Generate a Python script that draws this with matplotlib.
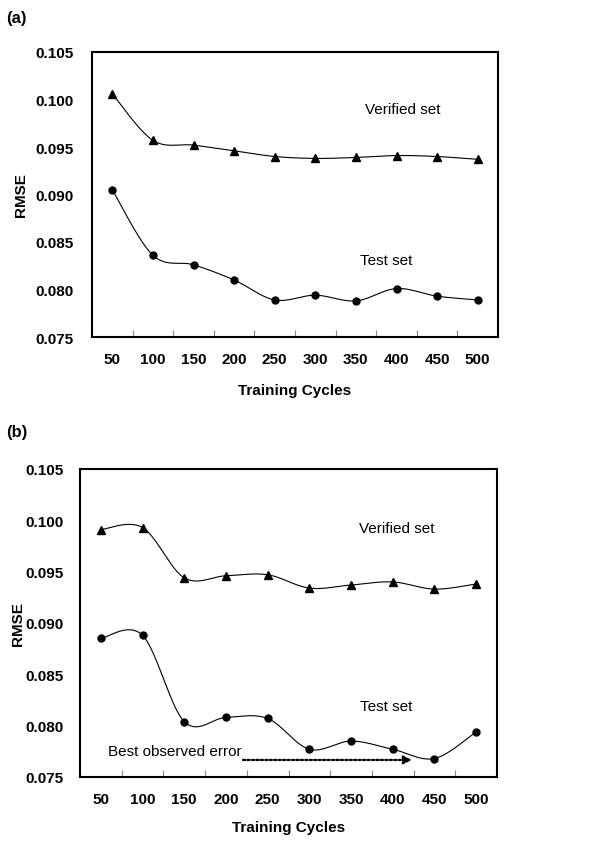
import numpy as np
import matplotlib
matplotlib.use("Agg")
import matplotlib.pyplot as plt

plt.rcParams['font.family'] = ['Liberation Sans', 'DejaVu Sans']

cycles = [50, 100, 150, 200, 250, 300, 350, 400, 450, 500]
verified_a = [0.1006, 0.0957, 0.0952, 0.0946, 0.0940, 0.0938, 0.0939, 0.0941, 0.0940, 0.0937]
test_a = [0.0905, 0.0836, 0.0826, 0.0810, 0.0789, 0.0794, 0.0788, 0.0801, 0.0793, 0.0789]
verified_b = [0.0991, 0.0993, 0.0944, 0.0946, 0.0947, 0.0934, 0.0937, 0.0940, 0.0933, 0.0938]
test_b = [0.0885, 0.0888, 0.0804, 0.0808, 0.0807, 0.0777, 0.0785, 0.0777, 0.0768, 0.0794]
yticks = [0.075, 0.080, 0.085, 0.090, 0.095, 0.100, 0.105]


def smooth(xs, ys, n=30):
    xs = np.asarray(xs, float)
    ys = np.asarray(ys, float)
    P = np.column_stack([xs, ys])
    Pp = np.vstack([P[0], P, P[-1]])
    out = []
    t = np.linspace(0, 1, n)[:, None]
    for i in range(len(P) - 1):
        p0, p1 = Pp[i + 1], Pp[i + 2]
        c1 = p0 + (Pp[i + 2] - Pp[i]) / 6.0
        c2 = p1 - (Pp[i + 3] - Pp[i + 1]) / 6.0
        seg = ((1 - t) ** 3) * p0 + 3 * ((1 - t) ** 2) * t * c1 + 3 * (1 - t) * t ** 2 * c2 + t ** 3 * p1
        out.append(seg if i == 0 else seg[1:])
    out = np.vstack(out)
    return out[:, 0], out[:, 1]


def panel(ax, ver, tst, ylab_pad, xpad, ylab_x, xlab_y):
    xi = np.arange(1, len(cycles) + 1)
    for vals, mk, ms in [(ver, '^', 6), (tst, 'o', 5)]:
        sx, sy = smooth(xi, vals)
        ax.plot(sx, sy, color='black', lw=0.8, zorder=2)
        ax.plot(xi, vals, linestyle='none', marker=mk, color='black', ms=ms, zorder=3)
    ax.set_xlim(0.5, len(cycles) + 0.5)
    ax.set_ylim(0.075, 0.105)
    ax.set_yticks(yticks)
    ax.set_yticklabels([f"{v:.3f}" for v in yticks], fontsize=11, fontweight='bold')
    ax.set_xticks(xi)
    ax.set_xticklabels([str(c) for c in cycles], fontsize=11, fontweight='bold')
    ax.set_xticks(np.arange(1.5, len(cycles), 1.0), minor=True)
    ax.tick_params(axis='x', which='major', length=0, pad=xpad)
    ax.tick_params(axis='x', which='minor', length=5, direction='in', color='#888888', width=0.8)
    ax.tick_params(axis='y', length=0, pad=ylab_pad)
    for s in ax.spines.values():
        s.set_linewidth(1.5)
    ax.set_xlabel('Training Cycles', fontsize=11, fontweight='bold')
    ax.set_ylabel('RMSE', fontsize=11, fontweight='bold')
    ax.yaxis.set_label_coords(ylab_x, 0.5)
    ax.yaxis.label.set_va('center')
    ax.xaxis.set_label_coords(0.5, xlab_y)
    ax.xaxis.label.set_va('center')


fig = plt.figure(figsize=(6, 8.53), dpi=100)

ax1 = fig.add_axes([92 / 600, 1 - 338 / 853, 406 / 600, 285 / 853])
panel(ax1, verified_a, test_a, 13, 11, (21 - 92) / 406, (338 - 391) / 285)
ax1.text(0.765, 0.80, 'Verified set', transform=ax1.transAxes, ha='center', va='center', fontsize=11)
ax1.text(0.725, 0.27, 'Test set', transform=ax1.transAxes, ha='center', va='center', fontsize=11)
fig.text(6 / 600, 1 - 18 / 853, '(a)', fontsize=12, fontweight='bold', ha='left', va='center')

ax2 = fig.add_axes([80 / 600, 1 - 778 / 853, 417 / 600, 308 / 853])
panel(ax2, verified_b, test_b, 12, 11, (18 - 80) / 417, (778 - 828) / 308)
ax2.text(0.760, 0.81, 'Verified set', transform=ax2.transAxes, ha='center', va='center', fontsize=11)
ax2.text(0.735, 0.23, 'Test set', transform=ax2.transAxes, ha='center', va='center', fontsize=11)
ax2.text(0.068, 0.085, 'Best observed error', transform=ax2.transAxes, ha='left', va='center', fontsize=11)
ax2.annotate('', xy=(8.46, 0.07666), xytext=(4.41, 0.07666),
             arrowprops=dict(arrowstyle='-|>', linestyle=(0, (1, 1)), lw=1.6, color='black',
                             mutation_scale=12, shrinkA=0, shrinkB=0))
fig.text(6 / 600, 1 - 433 / 853, '(b)', fontsize=12, fontweight='bold', ha='left', va='center')

fig.savefig('out.png', dpi=100)
